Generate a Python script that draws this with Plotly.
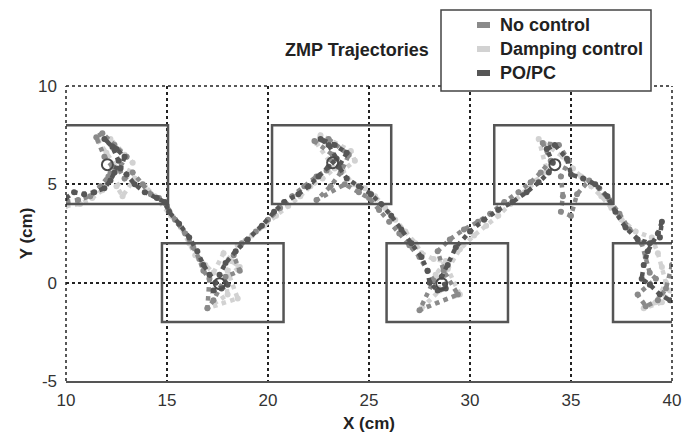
import plotly.graph_objects as go

series_names = ["No control", "Damping control", "PO/PC"]
series_colors = ["#8a8a8a", "#d2d2d2", "#565656"]

# No control (medium gray)
nc_x = [10.0,10.6,11.2,11.7,12.1,12.3,11.9,11.5,11.8,12.4,13.0,12.6,12.9,13.3,13.8,14.2,14.6,15.0,15.4,15.9,16.3,16.6,16.8,17.1,17.0,17.3,17.9,18.6,18.3,18.7,19.4,20.0,20.6,21.2,21.8,22.4,22.9,23.2,22.3,23.0,24.0,23.6,23.1,22.4,23.8,24.5,25.0,25.5,26.0,26.5,27.0,27.5,27.9,28.2,27.5,29.4,28.7,28.4,29.0,29.7,30.4,31.0,31.7,32.4,33.0,33.5,34.0,33.6,34.4,34.9,34.5,34.6,34.5,35.0,35.3,35.9,36.4,36.9,37.4,37.9,38.5,38.7,38.9,39.2,38.3,38.7,39.3,39.7,40.0]
nc_y = [4.1,4.2,4.4,4.9,5.4,5.9,6.4,7.4,7.6,7.0,6.4,5.8,5.3,5.6,5.0,4.5,4.3,3.9,3.2,2.5,1.8,1.2,0.6,0.2,-1.3,-0.9,0.3,0.6,1.4,2.0,2.6,3.2,3.8,4.4,4.9,5.4,5.7,6.5,7.2,7.3,6.5,5.6,4.9,4.2,5.0,4.6,4.3,3.7,3.1,2.5,1.9,1.3,0.6,0.1,-1.4,-0.6,0.6,1.6,2.2,2.7,3.1,3.5,4.1,4.6,5.1,5.6,6.2,7.1,7.0,6.2,5.4,4.4,3.6,3.4,4.5,5.2,4.8,4.2,3.5,2.7,2.0,1.3,0.5,0.2,-0.6,-1.2,-0.9,-0.3,0.9]

# Damping control (light gray)
dc_x = [10.0,10.7,11.3,11.8,12.2,12.6,12.0,11.6,12.2,12.9,13.3,13.0,12.5,12.8,13.4,13.9,14.4,15.2,15.7,16.1,16.4,16.9,17.3,17.8,18.2,18.6,17.9,18.0,17.0,18.5,18.0,18.5,19.2,19.8,20.4,21.0,21.6,22.1,22.7,23.3,22.4,22.6,24.1,24.3,23.7,24.2,24.8,25.3,25.8,26.3,26.8,27.3,27.6,28.2,28.8,28.3,28.5,27.6,29.5,28.9,29.5,30.2,30.8,31.4,32.0,32.7,33.3,33.8,33.4,34.6,35.1,35.5,36.0,36.5,37.0,37.5,38.2,39.0,39.3,39.5,39.7,39.2,38.6,39.5,39.9]
dc_y = [3.9,4.0,4.3,4.7,5.3,5.7,6.6,7.2,7.3,6.5,6.1,5.4,4.9,4.4,5.3,4.9,4.4,3.4,2.8,2.0,1.4,0.9,0.5,1.5,1.1,0.8,0.2,-0.6,-1.3,-0.8,0.6,1.9,2.4,2.9,3.4,3.9,4.4,4.9,5.3,5.8,7.1,7.5,6.7,6.2,5.7,5.0,4.8,4.4,3.8,3.2,2.6,2.0,1.5,1.2,1.1,0.4,-0.4,-1.3,-0.6,0.7,1.7,2.4,2.9,3.4,4.0,4.6,5.2,5.7,7.3,6.4,5.8,5.4,4.9,4.4,3.8,3.2,2.6,2.3,1.5,0.8,0.0,-1.0,-1.3,-1.0,-0.4]

# PO/PC (dark gray)
pc_x = [10.0,10.4,10.9,11.4,11.9,12.2,12.4,12.6,12.3,11.9,12.5,12.9,12.7,13.0,13.4,13.9,14.5,14.9,15.1,15.6,16.1,16.5,16.8,17.1,17.4,17.3,17.7,18.0,17.6,17.9,18.4,19.0,19.7,20.3,20.8,21.5,22.0,22.5,23.0,23.4,23.0,22.6,23.3,23.9,23.5,23.9,24.5,25.1,25.6,26.1,26.6,27.1,27.6,27.9,28.0,28.4,28.8,28.6,28.9,29.3,30.0,30.7,31.4,32.1,32.8,33.4,33.9,34.1,33.8,34.2,34.8,35.0,35.6,36.2,36.8,37.2,37.7,38.3,38.9,39.4,39.5,39.3,38.8,38.6,38.5,38.9,39.4,39.9]
pc_y = [4.3,4.6,4.5,4.6,4.8,5.2,5.6,6.2,6.9,7.3,6.8,6.4,5.8,5.5,5.0,4.6,4.3,4.1,3.6,3.0,2.3,1.6,0.9,0.4,0.0,-0.4,-0.3,-0.1,0.4,1.0,1.6,2.2,2.9,3.6,4.1,4.5,4.9,5.4,5.9,6.3,7.0,7.3,7.0,6.6,5.9,5.3,4.9,4.5,4.0,3.4,2.7,2.0,1.3,0.6,0.0,-0.4,-0.3,0.3,0.9,1.8,2.6,3.2,3.7,4.1,4.6,5.1,5.6,6.1,6.8,7.0,6.3,5.5,5.3,5.0,4.4,3.6,2.8,2.2,2.0,2.3,3.1,2.5,1.6,0.9,0.2,-0.1,-0.6,-0.9]

# Foot target circles
circle_x = [12.05, 17.6, 23.2, 28.6, 34.2]
circle_y = [6.0, -0.05, 6.1, -0.05, 6.0]

# Support regions (footprints)
upper_x0 = [9.1, 20.2, 31.2]
upper_x1 = [15.05, 26.1, 37.1]
upper_y = [4, 8]
lower_x0 = [14.75, 25.87, 37.08]
lower_x1 = [20.77, 31.88, 43.1]
lower_y = [-2, 2]

x_ticks = [10, 15, 20, 25, 30, 35, 40]
y_ticks = [-5, 0, 5, 10]

fig = go.Figure()

draw = [(dc_x, dc_y, 1), (nc_x, nc_y, 0), (pc_x, pc_y, 2)]
for xs, ys, i in draw:
    fig.add_trace(go.Scatter(
        x=xs, y=ys, mode="lines+markers", name=series_names[i],
        line=dict(color=series_colors[i], width=4.5, dash="dot"),
        marker=dict(color=series_colors[i], size=6),
        showlegend=False, cliponaxis=True,
    ))

fig.add_trace(go.Scatter(
    x=circle_x, y=circle_y, mode="markers", showlegend=False,
    marker=dict(symbol="circle-open", size=11, color="#4a4a4a", line=dict(width=2, color="#4a4a4a")),
))

shapes = []
for x0, x1 in zip(upper_x0, upper_x1):
    shapes.append(dict(type="rect", xref="x", yref="y", x0=x0, x1=x1, y0=upper_y[0], y1=upper_y[1],
                       line=dict(color="#555555", width=2.5), layer="above"))
for x0, x1 in zip(lower_x0, lower_x1):
    shapes.append(dict(type="rect", xref="x", yref="y", x0=x0, x1=x1, y0=lower_y[0], y1=lower_y[1],
                       line=dict(color="#555555", width=2.5), layer="above"))

# dotted frame: left, right, top
for xd in (0, 1):
    shapes.append(dict(type="line", xref="x domain", yref="y domain", x0=xd, x1=xd, y0=0, y1=1,
                       line=dict(color="#222222", width=1.5, dash="dot")))
shapes.append(dict(type="line", xref="x domain", yref="y domain", x0=0, x1=1, y0=1, y1=1,
                   line=dict(color="#222222", width=1.5, dash="dot")))

# manual legend (pixel -> paper)
L, PW, B, PH = 66, 606, 381, 295
def px(xp):
    return (xp - L) / PW
def py(yp):
    return (B - yp) / PH

shapes.append(dict(type="rect", xref="paper", yref="paper", x0=px(441), x1=px(651), y0=py(91), y1=py(10),
                   line=dict(color="#444444", width=1.5), fillcolor="white", layer="above"))
annotations = []
leg_y = [25, 49, 73]
for i, yy in enumerate(leg_y):
    shapes.append(dict(type="line", xref="paper", yref="paper", x0=px(477), x1=px(490), y0=py(yy), y1=py(yy),
                       line=dict(color=series_colors[i], width=6), layer="above"))
    annotations.append(dict(xref="paper", yref="paper", x=px(498), y=py(yy), text="<b>%s</b>" % series_names[i],
                            showarrow=False, xanchor="left", yanchor="middle",
                            font=dict(size=18, color="#222222", family="Liberation Sans, Arial, sans-serif")))

annotations.append(dict(xref="paper", yref="paper", x=px(357), y=py(50), text="<b>ZMP Trajectories</b>",
                        showarrow=False, xanchor="center", yanchor="middle",
                        font=dict(size=18, color="#222222", family="Liberation Sans, Arial, sans-serif")))

tickfont = dict(size=17, color="#333333", family="Liberation Sans Narrow, Arial Narrow, Liberation Sans, Arial, sans-serif")

fig.update_layout(
    width=689, height=436,
    margin=dict(l=66, r=17, t=86, b=55),
    paper_bgcolor="white", plot_bgcolor="white",
    shapes=shapes, annotations=annotations,
    showlegend=False,
    xaxis=dict(range=[10, 40], tickvals=x_ticks, ticktext=[str(v) for v in x_ticks],
               showgrid=True, gridcolor="#222222", griddash="dot", gridwidth=1.5,
               zeroline=False, showline=True, linecolor="#555555", linewidth=2,
               ticks="", tickfont=tickfont, ticklabelstandoff=3, automargin=False,
               title=dict(text="<b>X (cm)</b>", standoff=8,
                          font=dict(size=17, color="#222222", family="Liberation Sans Narrow, Liberation Sans, Arial, sans-serif"))),
    yaxis=dict(range=[-5, 10], tickvals=y_ticks, ticktext=[str(v) for v in y_ticks],
               showgrid=True, gridcolor="#222222", griddash="dot", gridwidth=1.5,
               zeroline=False, showline=False, ticks="", tickfont=tickfont, ticklabelstandoff=8,
               automargin=False,
               title=dict(text="<b>Y (cm)</b>", standoff=1,
                          font=dict(size=17, color="#222222", family="Liberation Sans, Arial, sans-serif"))),
)

fig.write_html("out.html")
